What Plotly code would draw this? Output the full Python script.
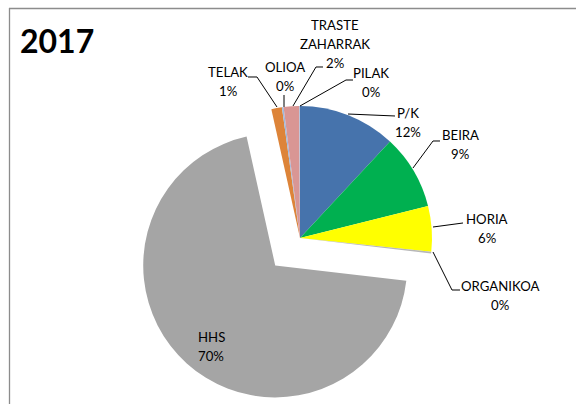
import plotly.graph_objects as go

# ---- data ----
labels = ["P/K", "BEIRA", "HORIA", "ORGANIKOA", "HHS", "TELAK", "OLIOA", "TRASTE ZAHARRAK", "PILAK"]
values = [12.0, 9.2, 5.6, 0.2, 70.0, 1.3, 0.2, 1.9, 0.1]
title_text = "2017"

# ---- styles ----
colors = ["#4673AC", "#00B050", "#FFFF00", "#B7B7B7", "#A5A5A5", "#DD8439", "#9DB9DE", "#D99694", "#A9BCD8"]
pulls = [0, 0, 0, 0, 0.28, 0, 0, 0, 0]

W, H = 576, 420          # figure a bit taller than the 404px window; bottom is cropped
FONT = "Lato"
FS = 13.2
LINE = 19

def px(x):
    return x / W

def py(y):
    return 1 - y / H

# pie box: centre (300, 238) px, radius ~132 px
R, CX, CY = 132, 300, 238
half = R * (1 + max(pulls))
dom_x = [px(CX - half - 5), px(CX + half + 5)]
dom_y = [py(CY + half), py(CY - half)]

total = sum(values)
pcts = [f"{round(v / total * 100):d}%" for v in values]

fig = go.Figure(go.Pie(
    labels=labels, values=values, sort=False, direction="clockwise", rotation=0,
    pull=pulls, marker=dict(colors=colors, line=dict(width=0)),
    textinfo="none", hoverinfo="label+percent",
    domain=dict(x=dom_x, y=dom_y),
    showlegend=False,
))

# label layout: (anchor x, first line y, xanchor)
label_pos = {
    "P/K": (408, 113, "center"),
    "BEIRA": (460, 135, "center"),
    "HORIA": (487, 219, "center"),
    "ORGANIKOA": (500, 286, "center"),
    "HHS": (196, 337, "left"),
    "TELAK": (228, 72, "center"),
    "OLIOA": (285, 67, "center"),
    "TRASTE ZAHARRAK": (335, 25, "center"),
    "PILAK": (371, 73, "center"),
}
leaders = {
    "P/K": [(348, 114), (395, 116)],
    "BEIRA": [(413, 168), (433, 141), (440, 141)],
    "HORIA": [(433, 227), (463, 223)],
    "ORGANIKOA": [(433, 252), (452, 290), (460, 290)],
    "TELAK": [(277, 107), (257, 77), (248, 77)],
    "OLIOA": [(284, 107), (284, 95)],
    "TRASTE ZAHARRAK": [(293, 106), (316, 67), (323, 67)],
    "PILAK": [(300, 106), (346, 80), (353, 80)],
}

annotations = []
for lab, pct in zip(labels, pcts):
    x0, y0, xa = label_pos[lab]
    lines = lab.split(" ") + [pct]
    for i, t in enumerate(lines):
        annotations.append(dict(
            x=px(x0), y=py(y0 + i * LINE), xref="paper", yref="paper",
            text=t, showarrow=False, xanchor=xa, yanchor="middle",
            font=dict(family=FONT, size=FS, color="#000000"),
        ))

annotations.append(dict(
    x=px(18), y=py(40), xref="paper", yref="paper", text=f"<b>{title_text}</b>",
    showarrow=False, xanchor="left", yanchor="middle",
    font=dict(family=FONT, size=32, color="#000000"),
))

shapes = []
for lab, pts in leaders.items():
    path = "M " + " L ".join(f"{px(x):.5f},{py(y):.5f}" for x, y in pts)
    shapes.append(dict(type="path", path=path, xref="paper", yref="paper",
                       line=dict(color="#000000", width=1)))

# chart frame (top and left edges visible)
shapes.append(dict(type="line", xref="paper", yref="paper", x0=px(9), y0=py(8.5), x1=1.01, y1=py(8.5),
                   line=dict(color="#8C8C8C", width=1.3)))
shapes.append(dict(type="line", xref="paper", yref="paper", x0=px(9.5), y0=py(8), x1=px(9.5), y1=-0.01,
                   line=dict(color="#8C8C8C", width=1.3)))

fig.update_layout(
    width=W, height=H, margin=dict(l=0, r=0, t=0, b=0),
    paper_bgcolor="white", plot_bgcolor="white",
    annotations=annotations, shapes=shapes,
)

fig.write_html(
    "out.html",
    config={"displayModeBar": False},
    post_script="document.body.style.margin='0px';document.body.style.overflow='hidden';",
)
